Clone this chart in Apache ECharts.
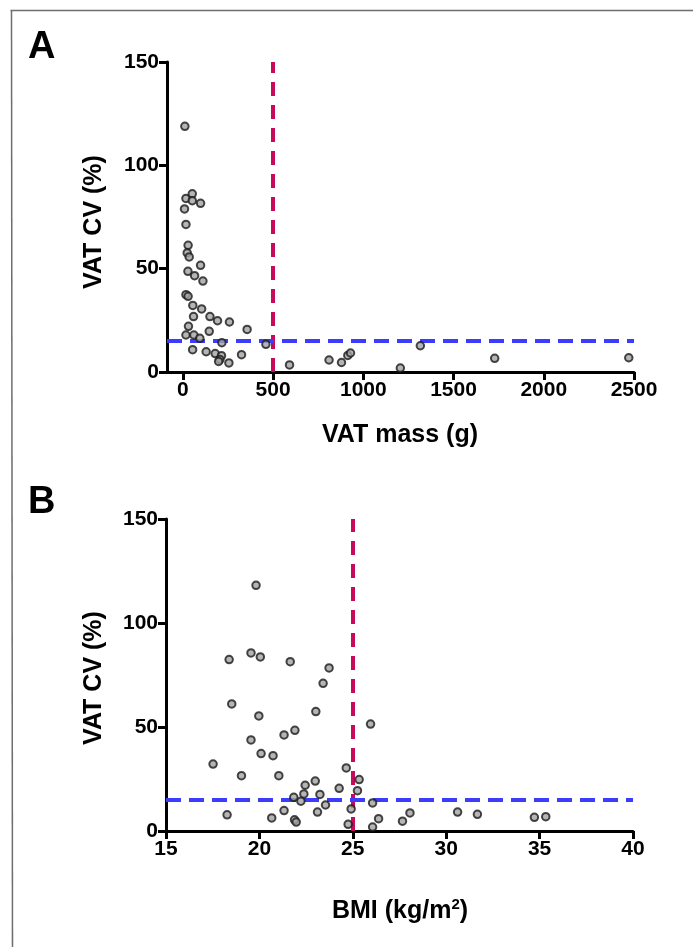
<!DOCTYPE html>
<html>
<head>
<meta charset="utf-8">
<script src="https://cdn.jsdelivr.net/npm/echarts@6/dist/echarts.min.js"></script>
<style>
html,body{margin:0;padding:0;background:#fff;}
#chart{width:693px;height:947px;}
</style>
</head>
<body>
<div id="chart"></div>
<script>
// Panel A: VAT mass (g) vs VAT CV (%)
const vatMassA = [11,17,52,52,98,9,17,29,24,35,98,28,65,111,17,29,55,104,59,150,192,258,31,146,356,17,61,94,216,460,54,129,179,214,205,198,255,325,591,810,879,914,929,1205,1316,1728,2471];
const vatCvA = [118.9,84,86.2,82.9,81.6,78.9,71.4,61.3,57.6,55.7,51.6,48.7,46.6,44.0,37.4,36.6,32.2,30.5,26.8,26.8,24.8,24.2,22.1,19.7,20.6,17.9,17.9,16.3,14.2,13.4,10.8,9.8,8.9,7.9,6.1,5.1,4.4,8.4,3.4,5.8,4.6,8.0,9.2,1.9,12.7,6.6,6.9];
// Panel B: BMI (kg/m2) vs VAT CV (%)
const bmiB = [19.82,18.38,19.55,20.05,21.65,23.73,23.41,18.52,19.97,23.02,25.95,21.9,21.32,19.55,20.09,20.73,17.52,24.65,19.04,21.04,25.34,22.99,22.45,24.27,25.25,22.38,23.24,21.84,22.22,26.06,23.54,21.32,23.11,24.91,18.27,20.66,21.88,21.97,24.75,26.06,26.38,27.66,28.06,30.61,31.67,34.72,35.33];
const vatCvB = [118.1,82.4,85.6,83.7,81.4,78.4,71.0,61.1,55.3,57.4,51.4,48.4,46.2,43.8,37.2,36.2,32.2,30.3,26.6,26.6,24.7,24.0,22.0,20.5,19.4,17.8,17.6,16.2,14.3,13.5,12.5,9.8,9.1,10.6,7.8,6.3,5.4,4.3,3.2,1.9,5.9,4.7,8.7,9.1,8.0,6.6,6.9];
// Thresholds and ticks
const massThreshold = 500;
const bmiThreshold = 25;
const cvThreshold = 15;
const massTicks = [0,500,1000,1500,2000,2500];

const FONT = '"Liberation Sans", Arial, sans-serif';
const axisLine = {show:true, onZero:false, lineStyle:{color:'#000', width:3}};
const axisTick = {show:true, inside:false, length:8, lineStyle:{color:'#000', width:3}};
const axisLabel = {color:'#000', fontFamily:FONT, fontWeight:'bold', fontSize:21, margin:8,
                   formatter:(v)=>String(v)};

const pointStyle = {color:'#a3a3a3', borderColor:'#1a1a1a', borderWidth:2};
const magenta = '#c70a5c';
const blue = '#3c3cff';

const chart = echarts.init(document.getElementById('chart'), null, {renderer:'canvas'});
const toPairs = (xs, ys) => xs.map((x,i)=>[x, ys[i]]);

chart.setOption({
  animation:false,
  backgroundColor:'#fff',
  grid:[
    {left:167, right:59, top:62, bottom:575},
    {left:166, right:60, top:519, bottom:116}
  ],
  xAxis:[
    {gridIndex:0, type:'value', min:-88, max:2500,
     axisLine, splitLine:{show:false},
     axisTick:Object.assign({}, axisTick, {customValues:massTicks}),
     axisLabel:Object.assign({}, axisLabel, {customValues:massTicks})},
    {gridIndex:1, type:'value', min:15, max:40, interval:5,
     axisLine, axisTick, axisLabel, splitLine:{show:false}}
  ],
  yAxis:[
    {gridIndex:0, type:'value', min:0, max:150, interval:50,
     axisLine, axisTick, axisLabel, splitLine:{show:false}},
    {gridIndex:1, type:'value', min:0, max:150, interval:50,
     axisLine, axisTick, axisLabel, splitLine:{show:false}}
  ],
  series:[
    {type:'scatter', xAxisIndex:0, yAxisIndex:0, data:[], z:1,
     markLine:{silent:true, symbol:['none','none'], label:{show:false},
       data:[
         {xAxis:massThreshold, lineStyle:{color:magenta, width:4, type:[14,9]}},
         {yAxis:cvThreshold, lineStyle:{color:blue, width:4, type:[15,8]}}
       ]}},
    {type:'scatter', xAxisIndex:0, yAxisIndex:0, z:5,
     symbol:'circle', symbolSize:7.5, itemStyle:pointStyle,
     data:toPairs(vatMassA, vatCvA)},
    {type:'scatter', xAxisIndex:1, yAxisIndex:1, data:[], z:1,
     markLine:{silent:true, symbol:['none','none'], label:{show:false},
       data:[
         {xAxis:bmiThreshold, lineStyle:{color:magenta, width:4, type:[14,9]}},
         {yAxis:cvThreshold, lineStyle:{color:blue, width:4, type:[15,8]}}
       ]}},
    {type:'scatter', xAxisIndex:1, yAxisIndex:1, z:5,
     symbol:'circle', symbolSize:7.5, itemStyle:pointStyle,
     data:toPairs(bmiB, vatCvB)}
  ],
  graphic:[
    {type:'line', shape:{x1:10.5, y1:10.5, x2:693, y2:10.5}, style:{stroke:'#6e6e6e', lineWidth:1.5}},
    {type:'line', shape:{x1:11.5, y1:10.5, x2:12.5, y2:947}, style:{stroke:'#6e6e6e', lineWidth:1.5}},
    {type:'text', left:28, top:29, style:{text:'A', fontFamily:FONT, fontWeight:'bold', fontSize:38, fill:'#000'}},
    {type:'text', left:28, top:484, style:{text:'B', fontFamily:FONT, fontWeight:'bold', fontSize:38, fill:'#000'}},
    {type:'text', x:94, y:222, rotation:Math.PI/2,
     style:{text:'VAT CV (%)', fontFamily:FONT, fontWeight:'bold', fontSize:25, fill:'#000', textAlign:'center', textVerticalAlign:'middle'}},
    {type:'text', x:94, y:678, rotation:Math.PI/2,
     style:{text:'VAT CV (%)', fontFamily:FONT, fontWeight:'bold', fontSize:25, fill:'#000', textAlign:'center', textVerticalAlign:'middle'}},
    {type:'text', x:400, y:435,
     style:{text:'VAT mass (g)', fontFamily:FONT, fontWeight:'bold', fontSize:25, fill:'#000', textAlign:'center', textVerticalAlign:'middle'}},
    {type:'text', x:400, y:911,
     style:{text:'BMI (kg/m{sup|2})', fontFamily:FONT, fontWeight:'bold', fontSize:25, fill:'#000', textAlign:'center', textVerticalAlign:'middle',
       rich:{sup:{fontFamily:FONT, fontWeight:'bold', fontSize:15, verticalAlign:'top', padding:[0,0,12,0], fill:'#000'}}}}
  ]
});
</script>
</body>
</html>
